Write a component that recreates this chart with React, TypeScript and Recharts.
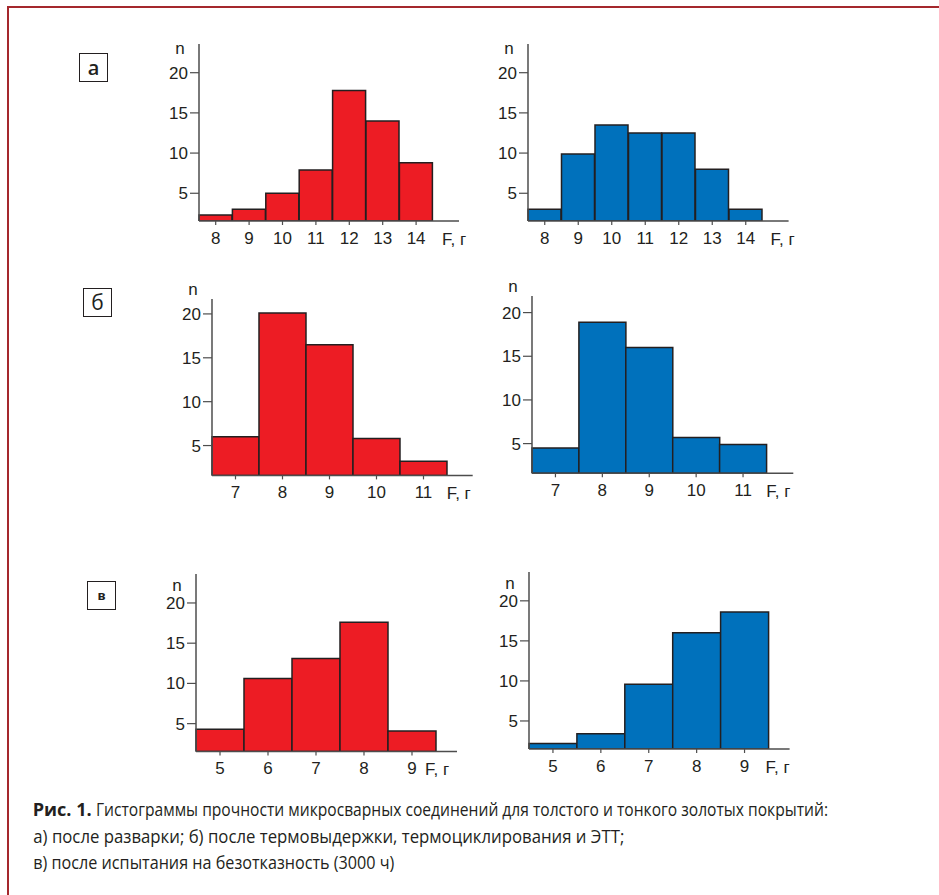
import React from 'react';
import { BarChart, Bar, XAxis, YAxis } from 'recharts';

// ---- data ----
const catsA = ['8', '9', '10', '11', '12', '13', '14'];
const thickA = [2.3, 3.0, 5.0, 7.9, 17.8, 14.0, 8.8];
const thinA = [3.0, 9.9, 13.5, 12.5, 12.5, 8.0, 3.0];

const catsB = ['7', '8', '9', '10', '11'];
const thickB = [6.0, 20.1, 16.5, 5.8, 3.2];
const thinB = [4.5, 18.9, 16.0, 5.7, 4.9];

const catsV = ['5', '6', '7', '8', '9'];
const thickV = [4.3, 10.6, 13.1, 17.6, 4.1];
const thinV = [2.2, 3.4, 9.6, 16.0, 18.6];

const yTicks = [5, 10, 15, 20];
const panelLetters = ['а', 'б', 'в'];
const xUnit = 'F, г';
const yUnit = 'n';
const captionBold = 'Рис. 1.';
const captionLine1 = 'Гистограммы прочности микросварных соединений для толстого и тонкого золотых покрытий:';
const captionLine2 = 'а) после разварки; б) после термовыдержки, термоциклирования и ЭТТ;';
const captionLine3 = 'в) после испытания на безотказность (3000 ч)';

// ---- style ----
const RED = '#ed1c24';
const BLUE = '#0071bc';
const INK = '#231f20';
const AXIS = '#4d4d4d';
const FONT = '"Liberation Sans", Arial, sans-serif';
const CAP_FONT = '"Open Sans", "Noto Sans", sans-serif';
const TICK_SIZE = 17;

const YW = 50;
const MT = 24;
const MR = 24;
const XH = 40;

type PanelProps = {
  cats: string[];
  values: number[];
  fill: string;
  axisX: number;
  top: number;
  bottom: number;
  end: number;
  pad: number;
  domain: [number, number];
  nDy: number;
  fDx: number;
};

function Panel({ cats, values, fill, axisX, top, bottom, end, pad, domain, nDy, fDx }: PanelProps) {
  const data = cats.map((f, i) => ({ f, n: values[i] }));
  const plotW = end - axisX;
  const plotH = bottom - top;
  const renderN = () => (
    <text x={YW - 19} y={MT + nDy} dy="0.35em" textAnchor="middle" fill={INK} fontSize={TICK_SIZE} fontFamily={FONT}>
      {yUnit}
    </text>
  );
  const renderF = () => (
    <text x={YW + plotW - fDx} y={MT + plotH + 18} dy="0.35em" textAnchor="start" fill={INK} fontSize={TICK_SIZE} fontFamily={FONT}>
      {xUnit}
    </text>
  );
  return (
    <div style={{ position: 'absolute', left: axisX - YW, top: top - MT }}>
      <BarChart
        width={YW + plotW + MR}
        height={MT + plotH + XH}
        data={data}
        margin={{ top: MT, right: MR, bottom: 0, left: 0 }}
        barCategoryGap={0}
        barGap={0}
      >
        <XAxis
          dataKey="f"
          interval={0}
          height={XH}
          padding={{ left: 0, right: pad }}
          tickSize={4}
          tickMargin={7}
          axisLine={{ stroke: AXIS, strokeWidth: 1.5 }}
          tickLine={{ stroke: AXIS, strokeWidth: 1.2 }}
          tick={{ fill: INK, fontSize: TICK_SIZE, fontFamily: FONT }}
          label={{ value: xUnit, content: renderF }}
        />
        <YAxis
          type="number"
          domain={domain}
          allowDataOverflow
          ticks={yTicks}
          interval={0}
          width={YW}
          tickSize={9}
          tickMargin={2}
          axisLine={{ stroke: AXIS, strokeWidth: 1.5 }}
          tickLine={{ stroke: AXIS, strokeWidth: 1.2 }}
          tick={{ fill: INK, fontSize: TICK_SIZE, fontFamily: FONT }}
          label={{ value: yUnit, content: renderN }}
        />
        <Bar dataKey="n" fill={fill} stroke={INK} strokeWidth={1.5} isAnimationActive={false} />
      </BarChart>
    </div>
  );
}

function LetterBox({ letter, left, top, size, weight }: { letter: string; left: number; top: number; size: number; weight: number }) {
  return (
    <div
      style={{
        position: 'absolute',
        left,
        top,
        width: 29,
        height: 29,
        boxSizing: 'border-box',
        border: `1.5px solid ${INK}`,
        display: 'flex',
        alignItems: 'center',
        justifyContent: 'center',
        fontFamily: CAP_FONT,
        fontSize: size,
        fontWeight: weight,
        color: INK,
        lineHeight: 1,
      }}
    >
      {letter}
    </div>
  );
}

export default function App() {
  return (
    <div
      style={{
        position: 'absolute',
        left: 0,
        top: 0,
        width: 939,
        height: 895,
        overflow: 'hidden',
        background: '#ffffff',
      }}
    >
      <div
        style={{
          position: 'absolute',
          left: 7,
          top: 6,
          width: 1000,
          height: 1000,
          border: '2.5px solid #a4282d',
        }}
      />
      <LetterBox letter={panelLetters[0]} left={79} top={53} size={20} weight={600} />
      <LetterBox letter={panelLetters[1]} left={83} top={288} size={21} weight={400} />
      <LetterBox letter={panelLetters[2]} left={87} top={581} size={13} weight={700} />

      <Panel cats={catsA} values={thickA} fill={RED} axisX={199} top={44} bottom={221} end={459} pad={26.2} domain={[1.55, 23.57]} nDy={4} fDx={17} />
      <Panel cats={catsA} values={thinA} fill={BLUE} axisX={527.7} top={44} bottom={221} end={788.3} pad={26.1} domain={[1.55, 23.57]} nDy={4} fDx={18} />

      <Panel cats={catsB} values={thickB} fill={RED} axisX={212.3} top={299.3} bottom={475.7} end={473} pad={25.7} domain={[1.6, 21.7]} nDy={-10} fDx={26} />
      <Panel cats={catsB} values={thinB} fill={BLUE} axisX={532} top={296} bottom={473.3} end={793.3} pad={26.8} domain={[1.6, 21.9]} nDy={-10} fDx={27} />

      <Panel cats={catsV} values={thickV} fill={RED} axisX={195.7} top={574.3} bottom={751.7} end={456.7} pad={21} domain={[1.55, 23.6]} nDy={11} fDx={32} />
      <Panel cats={catsV} values={thinV} fill={BLUE} axisX={528.7} top={571.7} bottom={748.7} end={789.3} pad={21.1} domain={[1.5, 23.6]} nDy={11} fDx={24} />

      <svg width={939} height={100} style={{ position: 'absolute', left: 0, top: 790 }}>
        <text x={32.7} y={26} fill={INK} fontSize={18} fontFamily={CAP_FONT} fontWeight={700} textLength={59} lengthAdjust="spacingAndGlyphs">
          {captionBold}
        </text>
        <text x={96} y={26} fill={INK} fontSize={18} fontFamily={CAP_FONT} textLength={732} lengthAdjust="spacingAndGlyphs">
          {captionLine1}
        </text>
        <text x={33.3} y={53} fill={INK} fontSize={18} fontFamily={CAP_FONT} textLength={591} lengthAdjust="spacingAndGlyphs">
          {captionLine2}
        </text>
        <text x={33.3} y={79} fill={INK} fontSize={18} fontFamily={CAP_FONT} textLength={361} lengthAdjust="spacingAndGlyphs">
          {captionLine3}
        </text>
      </svg>
    </div>
  );
}
